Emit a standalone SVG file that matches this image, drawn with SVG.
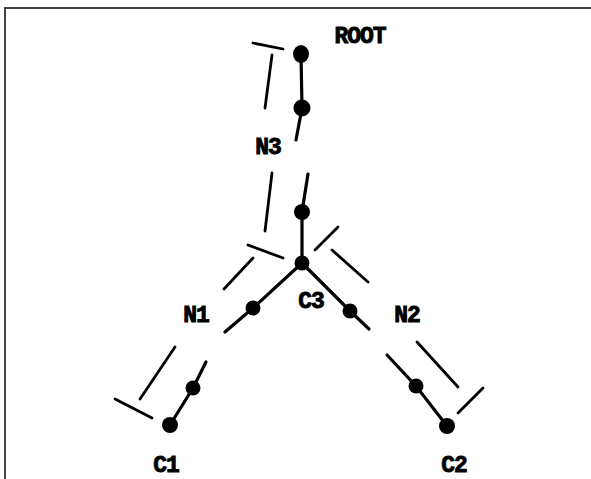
<svg xmlns="http://www.w3.org/2000/svg" width="591" height="479" viewBox="0 0 591 479">
<style>
.edge{stroke:#000;stroke-width:3.2;stroke-linecap:round;fill:none}
.mark{stroke:#000;stroke-width:2.8;stroke-linecap:round;fill:none}
.dot{fill:#000}
.lbl{font-family:"Liberation Mono","Courier New",monospace;font-weight:bold;font-size:23px;fill:#000;stroke:#000;stroke-width:0.9;text-anchor:middle;letter-spacing:-1px}
</style>
<rect width="591" height="479" fill="#fff"/>
<g id="frame">
<path d="M5 479 V8 H591" stroke="#444" stroke-width="2" fill="none"/>
</g>
<g id="connectors">
<path class="edge" d="M301 54 L302 108 L296 140"/>
<path class="edge" d="M308 174 L302 212 L302 263"/>
<path class="edge" d="M302 263 L253 308 L225 332"/>
<path class="edge" d="M206 362 L193 388 L170 425"/>
<path class="edge" d="M302 263 L350 311 L369 329"/>
<path class="edge" d="M387 355 L416 386 L447 426"/>
</g>
<g id="brackets">
<path class="mark" d="M253 43 L283 49"/>
<path class="mark" d="M272 55 L265 108"/>
<path class="mark" d="M272 173 L265 231"/>
<path class="mark" d="M248 245 L283 258"/>
<path class="mark" d="M253 258 L224 289"/>
<path class="mark" d="M338 227 L315 250"/>
<path class="mark" d="M332 250 L368 282"/>
<path class="mark" d="M175 347 L140 399"/>
<path class="mark" d="M115 399 L152 418"/>
<path class="mark" d="M417 342 L458 387"/>
<path class="mark" d="M483 388 L458 413"/>
</g>
<g id="ROOT"><ellipse class="dot" cx="301" cy="54" rx="8" ry="9"/><text class="lbl" x="360" y="43">ROOT</text></g>
<g id="n_root_lower"><circle class="dot" cx="302" cy="108" r="8.5"/></g>
<g id="N3"><text class="lbl" x="268" y="154">N3</text></g>
<g id="n_mid_upper"><circle class="dot" cx="302" cy="212" r="8"/></g>
<g id="C3"><circle class="dot" cx="302" cy="263" r="7.5"/><text class="lbl" x="311" y="308">C3</text></g>
<g id="n_left_upper"><circle class="dot" cx="253" cy="308" r="7.5"/></g>
<g id="N1"><text class="lbl" x="196" y="322">N1</text></g>
<g id="n_left_lower"><circle class="dot" cx="193" cy="388" r="7.5"/></g>
<g id="C1"><circle class="dot" cx="170" cy="425" r="8"/><text class="lbl" x="166" y="472">C1</text></g>
<g id="n_right_upper"><circle class="dot" cx="350" cy="311" r="7.5"/></g>
<g id="N2"><text class="lbl" x="407" y="322">N2</text></g>
<g id="n_right_lower"><circle class="dot" cx="416" cy="386" r="7.5"/></g>
<g id="C2"><circle class="dot" cx="447" cy="426" r="8"/><text class="lbl" x="454" y="472">C2</text></g>
</svg>
